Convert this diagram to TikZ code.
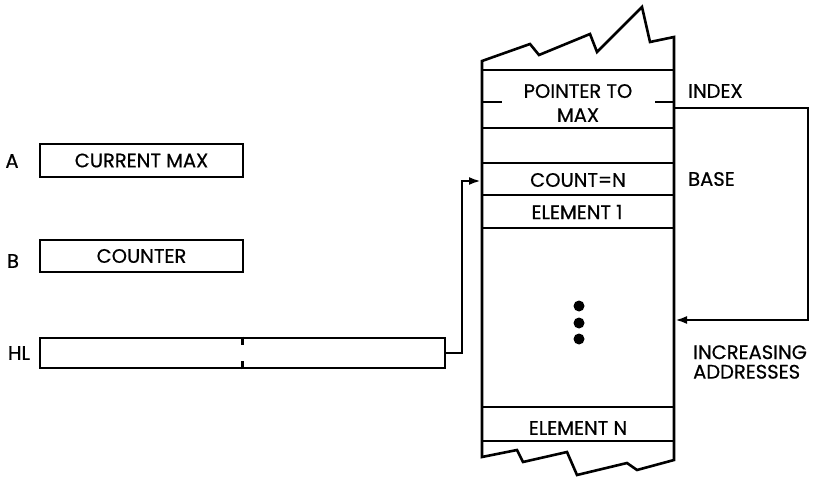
\documentclass[tikz,border=0pt]{standalone}
\usepackage{fontspec}
\setmainfont{Poppins}[FakeBold=0.6]
\usetikzlibrary{arrows.meta}
\begin{document}
\begin{tikzpicture}[x=1pt,y=-1pt,
  reg/.style={draw,line width=2.6pt,inner sep=0pt,font=\fontsize{19.5}{22}\selectfont},
  lbl/.style={font=\fontsize{19.5}{22}\selectfont,inner sep=0pt},
  wall/.style={line width=2.6pt,line join=miter},
  conn/.style={line width=2.4pt},
  tip/.style={-{Latex[length=12pt,width=8pt]}}]
\useasboundingbox (0,0) rectangle (813,478);

% registers
\node[reg,minimum width=203pt,minimum height=33pt] (amax) at (141.5,160.5) {CURRENT MAX};
\node[reg,minimum width=203pt,minimum height=32pt] (bcnt) at (141.5,256) {COUNTER};
\node[reg,minimum width=405pt,minimum height=30pt] (hl) at (242.5,353) {};
\draw[conn] (hl.north) -- ++(0,8);
\draw[conn] (hl.south) -- ++(0,-8);
\node[lbl] (la) at (12,161) {A};
\node[lbl] (lb) at (13,261) {B};
\node[lbl] (lhl) at (19,353) {HL};

% memory stack outline
\draw[wall] (674,37) -- (650,42) -- (642,7) -- (597,52) -- (590,34) -- (539,55) -- (530,44) -- (482,61)
  -- (482,457) -- (517,450) -- (523,462) -- (567,452) -- (577,475) -- (627,463) -- (637,470) -- (674,460) -- cycle;
\foreach \yy in {70,128,163,195,228,407,441}
  \draw[wall] (482,\yy) -- (674,\yy);
\draw[conn] (482,102) -- (502,102);
\draw[conn] (655,102) -- (674,102);

\node[lbl,align=center,font=\fontsize{19.5}{24}\selectfont] (ptr) at (578,103) {POINTER TO\\MAX};
\node[lbl] (cnt) at (578,180) {COUNT=N};
\node[lbl] (el1) at (577,212) {ELEMENT 1};
\node[lbl] (elN) at (578,428) {ELEMENT N};
\fill (579,306) circle[radius=5.5pt];
\fill (579,323) circle[radius=5.5pt];
\fill (579,339) circle[radius=5.5pt];

% right-hand labels
\node[lbl,anchor=west] (index) at (688,91) {INDEX};
\node[lbl,anchor=west] (base) at (688,179) {BASE};
\node[lbl,anchor=west,align=left,font=\fontsize{19.5}{19.5}\selectfont] (incr) at (693,362) {INCREASING\\ADDRESSES};

% connectors
\coordinate (cntin) at (481,181);
\coordinate (idxout) at (674,108);
\coordinate (incin) at (675,320);
\draw[conn,tip] (hl.east) -- (462,353) -- (462,181) -- (cntin);
\draw[conn,tip] (idxout) -- (808,108) -- (808,320) -- (incin);
\end{tikzpicture}
\end{document}
